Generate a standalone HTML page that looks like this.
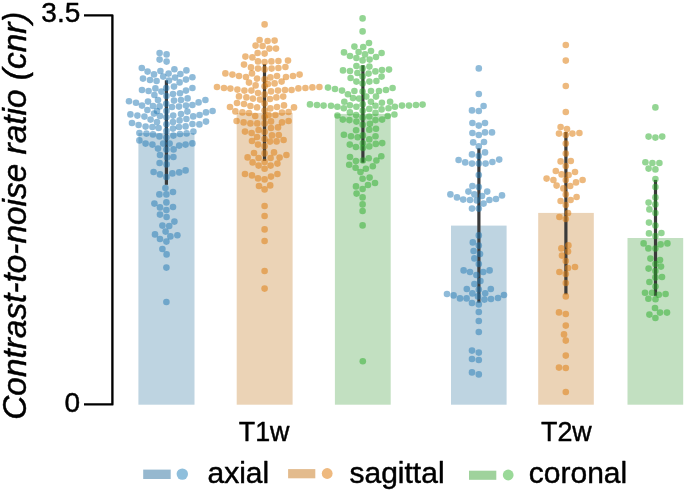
<!DOCTYPE html>
<html><head><meta charset="utf-8"><style>
html,body{margin:0;padding:0;background:#fff;}
svg{display:block;will-change:transform;}
text{font-family:"Liberation Sans",sans-serif;fill:#000;stroke:#000;stroke-width:0.45px;stroke-linejoin:round;}
</style></head><body>
<svg width="685" height="491" viewBox="0 0 685 491">
<rect width="685" height="491" fill="#fff"/>
<rect x="138.4" y="133.1" width="56.1" height="271.6" fill="#bed4e1"/>
<rect x="236.7" y="112.9" width="55.9" height="291.8" fill="#ebd3b6"/>
<rect x="334.9" y="113.9" width="55.8" height="290.8" fill="#c2e0c1"/>
<rect x="451.0" y="225.6" width="55.6" height="179.1" fill="#bed4e1"/>
<rect x="538.2" y="212.9" width="55.6" height="191.8" fill="#ebd3b6"/>
<rect x="627.5" y="238.0" width="55.7" height="166.7" fill="#c2e0c1"/>
<line x1="166.4" y1="80.3" x2="166.4" y2="184.8" stroke="#3a3a3a" stroke-width="3.2"/>
<line x1="264.5" y1="64.2" x2="264.5" y2="160.8" stroke="#3a3a3a" stroke-width="3.2"/>
<line x1="362.9" y1="65.2" x2="362.9" y2="162.7" stroke="#3a3a3a" stroke-width="3.2"/>
<line x1="478.9" y1="148.3" x2="478.9" y2="302.6" stroke="#3a3a3a" stroke-width="3.2"/>
<line x1="565.9" y1="132.0" x2="565.9" y2="294.3" stroke="#3a3a3a" stroke-width="3.2"/>
<line x1="655.5" y1="179.9" x2="655.5" y2="295.8" stroke="#3a3a3a" stroke-width="3.2"/>
<g fill="rgba(31,119,180,0.5)"><circle cx="159.6" cy="53.0" r="3.3"/><circle cx="166.6" cy="54.4" r="3.3"/><circle cx="159.6" cy="59.6" r="3.3"/><circle cx="166.6" cy="61.6" r="3.3"/><circle cx="141.8" cy="68.0" r="3.3"/><circle cx="147.6" cy="71.6" r="3.3"/><circle cx="154.0" cy="74.4" r="3.3"/><circle cx="160.4" cy="71.0" r="3.3"/><circle cx="168.6" cy="73.6" r="3.3"/><circle cx="174.4" cy="69.2" r="3.3"/><circle cx="180.4" cy="74.0" r="3.3"/><circle cx="186.4" cy="70.4" r="3.3"/><circle cx="143.0" cy="78.6" r="3.3"/><circle cx="150.0" cy="80.0" r="3.3"/><circle cx="156.6" cy="81.0" r="3.3"/><circle cx="163.2" cy="76.6" r="3.3"/><circle cx="169.0" cy="80.6" r="3.3"/><circle cx="175.0" cy="77.6" r="3.3"/><circle cx="179.6" cy="82.4" r="3.3"/><circle cx="186.0" cy="79.6" r="3.3"/><circle cx="192.4" cy="77.2" r="3.3"/><circle cx="142.0" cy="90.0" r="3.3"/><circle cx="148.6" cy="91.0" r="3.3"/><circle cx="155.4" cy="88.4" r="3.3"/><circle cx="161.4" cy="91.6" r="3.3"/><circle cx="174.0" cy="86.6" r="3.3"/><circle cx="173.0" cy="94.0" r="3.3"/><circle cx="180.0" cy="93.2" r="3.3"/><circle cx="186.0" cy="90.6" r="3.3"/><circle cx="192.4" cy="88.0" r="3.3"/><circle cx="154.4" cy="95.0" r="3.3"/><circle cx="158.0" cy="100.0" r="3.3"/><circle cx="174.0" cy="100.6" r="3.3"/><circle cx="181.0" cy="100.0" r="3.3"/><circle cx="187.6" cy="98.4" r="3.3"/><circle cx="129.0" cy="101.2" r="3.3"/><circle cx="136.0" cy="102.8" r="3.3"/><circle cx="142.0" cy="105.6" r="3.3"/><circle cx="148.0" cy="101.6" r="3.3"/><circle cx="153.0" cy="106.0" r="3.3"/><circle cx="159.6" cy="106.4" r="3.3"/><circle cx="172.0" cy="107.0" r="3.3"/><circle cx="179.0" cy="106.6" r="3.3"/><circle cx="186.0" cy="105.6" r="3.3"/><circle cx="192.4" cy="105.0" r="3.3"/><circle cx="198.6" cy="102.4" r="3.3"/><circle cx="205.4" cy="100.0" r="3.3"/><circle cx="147.4" cy="110.0" r="3.3"/><circle cx="157.0" cy="111.0" r="3.3"/><circle cx="154.0" cy="113.6" r="3.3"/><circle cx="160.0" cy="116.0" r="3.3"/><circle cx="173.2" cy="115.6" r="3.3"/><circle cx="181.0" cy="114.0" r="3.3"/><circle cx="187.4" cy="111.6" r="3.3"/><circle cx="193.2" cy="116.4" r="3.3"/><circle cx="199.6" cy="115.0" r="3.3"/><circle cx="206.0" cy="112.4" r="3.3"/><circle cx="212.6" cy="111.0" r="3.3"/><circle cx="130.4" cy="114.4" r="3.3"/><circle cx="137.4" cy="115.6" r="3.3"/><circle cx="144.4" cy="116.6" r="3.3"/><circle cx="150.6" cy="119.6" r="3.3"/><circle cx="157.0" cy="122.0" r="3.3"/><circle cx="173.0" cy="122.0" r="3.3"/><circle cx="179.6" cy="120.4" r="3.3"/><circle cx="186.4" cy="119.0" r="3.3"/><circle cx="192.4" cy="124.0" r="3.3"/><circle cx="199.4" cy="124.4" r="3.3"/><circle cx="206.0" cy="121.6" r="3.3"/><circle cx="132.0" cy="123.0" r="3.3"/><circle cx="138.6" cy="125.0" r="3.3"/><circle cx="145.6" cy="126.6" r="3.3"/><circle cx="152.4" cy="127.0" r="3.3"/><circle cx="158.6" cy="128.0" r="3.3"/><circle cx="173.0" cy="128.6" r="3.3"/><circle cx="179.0" cy="127.0" r="3.3"/><circle cx="185.6" cy="126.4" r="3.3"/><circle cx="139.4" cy="133.0" r="3.3"/><circle cx="146.4" cy="133.6" r="3.3"/><circle cx="153.0" cy="134.4" r="3.3"/><circle cx="159.4" cy="136.4" r="3.3"/><circle cx="173.4" cy="135.6" r="3.3"/><circle cx="180.0" cy="134.0" r="3.3"/><circle cx="186.6" cy="133.4" r="3.3"/><circle cx="193.4" cy="131.6" r="3.3"/><circle cx="139.4" cy="140.4" r="3.3"/><circle cx="145.6" cy="143.6" r="3.3"/><circle cx="152.4" cy="144.6" r="3.3"/><circle cx="158.0" cy="148.6" r="3.3"/><circle cx="163.2" cy="143.6" r="3.3"/><circle cx="169.6" cy="143.6" r="3.3"/><circle cx="173.6" cy="149.4" r="3.3"/><circle cx="179.2" cy="145.6" r="3.3"/><circle cx="185.6" cy="144.6" r="3.3"/><circle cx="192.4" cy="143.4" r="3.3"/><circle cx="160.0" cy="155.0" r="3.3"/><circle cx="166.4" cy="149.6" r="3.3"/><circle cx="167.0" cy="157.6" r="3.3"/><circle cx="173.4" cy="157.0" r="3.3"/><circle cx="159.6" cy="163.0" r="3.3"/><circle cx="166.6" cy="164.4" r="3.3"/><circle cx="153.6" cy="172.0" r="3.3"/><circle cx="160.0" cy="174.4" r="3.3"/><circle cx="166.4" cy="177.0" r="3.3"/><circle cx="172.4" cy="173.4" r="3.3"/><circle cx="179.2" cy="172.4" r="3.3"/><circle cx="185.6" cy="170.4" r="3.3"/><circle cx="165.4" cy="188.0" r="3.3"/><circle cx="159.4" cy="194.4" r="3.3"/><circle cx="166.4" cy="194.4" r="3.3"/><circle cx="173.0" cy="192.0" r="3.3"/><circle cx="154.4" cy="203.6" r="3.3"/><circle cx="160.0" cy="207.4" r="3.3"/><circle cx="166.4" cy="202.4" r="3.3"/><circle cx="166.4" cy="210.0" r="3.3"/><circle cx="173.0" cy="207.0" r="3.3"/><circle cx="160.0" cy="214.6" r="3.3"/><circle cx="166.6" cy="217.0" r="3.3"/><circle cx="174.4" cy="221.6" r="3.3"/><circle cx="162.4" cy="225.6" r="3.3"/><circle cx="169.2" cy="226.0" r="3.3"/><circle cx="165.6" cy="231.6" r="3.3"/><circle cx="155.0" cy="234.4" r="3.3"/><circle cx="160.0" cy="239.0" r="3.3"/><circle cx="166.4" cy="241.6" r="3.3"/><circle cx="170.4" cy="236.4" r="3.3"/><circle cx="177.4" cy="235.2" r="3.3"/><circle cx="162.4" cy="249.0" r="3.3"/><circle cx="166.6" cy="254.4" r="3.3"/><circle cx="166.4" cy="267.6" r="3.3"/><circle cx="166.4" cy="302.0" r="3.3"/><circle cx="166.2" cy="88.0" r="3.3"/><circle cx="166.4" cy="96.0" r="3.3"/><circle cx="166.2" cy="103.7" r="3.3"/><circle cx="166.4" cy="111.0" r="3.3"/><circle cx="166.4" cy="117.3" r="3.3"/><circle cx="166.4" cy="124.3" r="3.3"/><circle cx="166.4" cy="131.0" r="3.3"/><circle cx="166.4" cy="137.5" r="3.3"/></g>
<g fill="rgba(222,128,20,0.55)"><circle cx="264.6" cy="24.4" r="3.3"/><circle cx="259.6" cy="40.0" r="3.3"/><circle cx="267.6" cy="41.0" r="3.3"/><circle cx="274.6" cy="40.6" r="3.3"/><circle cx="255.6" cy="45.6" r="3.3"/><circle cx="262.6" cy="46.0" r="3.3"/><circle cx="269.4" cy="48.6" r="3.3"/><circle cx="276.0" cy="48.6" r="3.3"/><circle cx="257.6" cy="53.0" r="3.3"/><circle cx="264.6" cy="53.6" r="3.3"/><circle cx="245.4" cy="56.6" r="3.3"/><circle cx="252.4" cy="57.4" r="3.3"/><circle cx="258.0" cy="61.4" r="3.3"/><circle cx="271.4" cy="61.4" r="3.3"/><circle cx="278.4" cy="61.0" r="3.3"/><circle cx="288.0" cy="60.6" r="3.3"/><circle cx="244.0" cy="64.6" r="3.3"/><circle cx="251.0" cy="67.4" r="3.3"/><circle cx="258.0" cy="68.6" r="3.3"/><circle cx="271.6" cy="68.6" r="3.3"/><circle cx="278.4" cy="68.0" r="3.3"/><circle cx="285.4" cy="67.0" r="3.3"/><circle cx="225.4" cy="73.4" r="3.3"/><circle cx="232.4" cy="74.6" r="3.3"/><circle cx="239.0" cy="76.0" r="3.3"/><circle cx="246.0" cy="77.0" r="3.3"/><circle cx="252.0" cy="73.4" r="3.3"/><circle cx="257.0" cy="78.6" r="3.3"/><circle cx="270.4" cy="77.4" r="3.3"/><circle cx="277.0" cy="76.0" r="3.3"/><circle cx="286.0" cy="77.0" r="3.3"/><circle cx="293.0" cy="76.0" r="3.3"/><circle cx="299.6" cy="74.6" r="3.3"/><circle cx="249.0" cy="82.6" r="3.3"/><circle cx="255.6" cy="85.4" r="3.3"/><circle cx="268.0" cy="84.0" r="3.3"/><circle cx="274.6" cy="83.4" r="3.3"/><circle cx="281.6" cy="81.6" r="3.3"/><circle cx="217.0" cy="87.0" r="3.3"/><circle cx="224.0" cy="88.0" r="3.3"/><circle cx="230.4" cy="88.6" r="3.3"/><circle cx="237.4" cy="89.6" r="3.3"/><circle cx="244.4" cy="90.6" r="3.3"/><circle cx="251.4" cy="90.6" r="3.3"/><circle cx="258.0" cy="93.0" r="3.3"/><circle cx="271.0" cy="91.4" r="3.3"/><circle cx="278.0" cy="90.6" r="3.3"/><circle cx="285.0" cy="90.0" r="3.3"/><circle cx="291.6" cy="90.0" r="3.3"/><circle cx="298.4" cy="88.4" r="3.3"/><circle cx="305.4" cy="88.0" r="3.3"/><circle cx="312.4" cy="87.4" r="3.3"/><circle cx="319.4" cy="87.0" r="3.3"/><circle cx="239.0" cy="96.4" r="3.3"/><circle cx="246.4" cy="97.4" r="3.3"/><circle cx="253.0" cy="98.6" r="3.3"/><circle cx="260.0" cy="99.6" r="3.3"/><circle cx="270.0" cy="99.0" r="3.3"/><circle cx="276.4" cy="97.4" r="3.3"/><circle cx="283.2" cy="96.6" r="3.3"/><circle cx="237.0" cy="103.0" r="3.3"/><circle cx="244.0" cy="104.0" r="3.3"/><circle cx="250.4" cy="106.0" r="3.3"/><circle cx="257.0" cy="107.4" r="3.3"/><circle cx="270.4" cy="108.4" r="3.3"/><circle cx="277.0" cy="107.0" r="3.3"/><circle cx="284.0" cy="105.4" r="3.3"/><circle cx="294.0" cy="107.4" r="3.3"/><circle cx="230.0" cy="107.0" r="3.3"/><circle cx="264.6" cy="62.0" r="3.3"/><circle cx="264.6" cy="69.4" r="3.3"/><circle cx="264.6" cy="79.4" r="3.3"/><circle cx="264.6" cy="86.2" r="3.3"/><circle cx="264.6" cy="94.4" r="3.3"/><circle cx="264.6" cy="103.6" r="3.3"/><circle cx="235.4" cy="111.4" r="3.3"/><circle cx="242.4" cy="112.4" r="3.3"/><circle cx="249.0" cy="113.0" r="3.3"/><circle cx="255.2" cy="116.0" r="3.3"/><circle cx="268.6" cy="115.0" r="3.3"/><circle cx="275.4" cy="115.0" r="3.3"/><circle cx="282.0" cy="112.6" r="3.3"/><circle cx="288.6" cy="112.0" r="3.3"/><circle cx="236.6" cy="121.0" r="3.3"/><circle cx="243.6" cy="122.4" r="3.3"/><circle cx="250.4" cy="123.4" r="3.3"/><circle cx="257.2" cy="123.4" r="3.3"/><circle cx="271.0" cy="121.4" r="3.3"/><circle cx="282.0" cy="122.4" r="3.3"/><circle cx="288.6" cy="121.0" r="3.3"/><circle cx="245.0" cy="131.6" r="3.3"/><circle cx="251.6" cy="133.0" r="3.3"/><circle cx="258.6" cy="130.0" r="3.3"/><circle cx="271.0" cy="128.0" r="3.3"/><circle cx="278.0" cy="127.4" r="3.3"/><circle cx="257.0" cy="137.0" r="3.3"/><circle cx="272.0" cy="135.4" r="3.3"/><circle cx="278.8" cy="135.0" r="3.3"/><circle cx="252.0" cy="141.0" r="3.3"/><circle cx="258.0" cy="144.6" r="3.3"/><circle cx="270.0" cy="141.6" r="3.3"/><circle cx="276.6" cy="141.4" r="3.3"/><circle cx="283.6" cy="140.0" r="3.3"/><circle cx="254.0" cy="153.0" r="3.3"/><circle cx="274.0" cy="152.4" r="3.3"/><circle cx="247.6" cy="157.4" r="3.3"/><circle cx="258.6" cy="158.0" r="3.3"/><circle cx="270.6" cy="158.0" r="3.3"/><circle cx="279.6" cy="157.6" r="3.3"/><circle cx="286.4" cy="155.0" r="3.3"/><circle cx="252.6" cy="162.4" r="3.3"/><circle cx="258.6" cy="165.6" r="3.3"/><circle cx="270.6" cy="165.6" r="3.3"/><circle cx="277.4" cy="163.6" r="3.3"/><circle cx="245.0" cy="174.0" r="3.3"/><circle cx="252.0" cy="175.4" r="3.3"/><circle cx="258.0" cy="178.4" r="3.3"/><circle cx="264.6" cy="179.4" r="3.3"/><circle cx="271.0" cy="176.6" r="3.3"/><circle cx="277.4" cy="174.0" r="3.3"/><circle cx="259.0" cy="186.0" r="3.3"/><circle cx="264.6" cy="189.4" r="3.3"/><circle cx="270.2" cy="185.4" r="3.3"/><circle cx="264.6" cy="110.6" r="3.3"/><circle cx="264.6" cy="117.0" r="3.3"/><circle cx="264.6" cy="123.4" r="3.3"/><circle cx="264.6" cy="132.0" r="3.3"/><circle cx="264.6" cy="139.0" r="3.3"/><circle cx="264.6" cy="146.2" r="3.3"/><circle cx="264.6" cy="153.4" r="3.3"/><circle cx="264.6" cy="162.0" r="3.3"/><circle cx="264.6" cy="168.8" r="3.3"/><circle cx="264.6" cy="206.0" r="3.3"/><circle cx="264.6" cy="216.0" r="3.3"/><circle cx="264.6" cy="229.4" r="3.3"/><circle cx="264.6" cy="241.0" r="3.3"/><circle cx="264.6" cy="271.0" r="3.3"/><circle cx="264.6" cy="288.6" r="3.3"/></g>
<g fill="rgba(40,172,40,0.5)"><circle cx="362.6" cy="18.4" r="3.3"/><circle cx="362.6" cy="31.4" r="3.3"/><circle cx="369.0" cy="43.0" r="3.3"/><circle cx="354.4" cy="46.6" r="3.3"/><circle cx="363.2" cy="47.0" r="3.3"/><circle cx="371.0" cy="51.0" r="3.3"/><circle cx="358.6" cy="52.0" r="3.3"/><circle cx="344.0" cy="52.4" r="3.3"/><circle cx="350.0" cy="56.0" r="3.3"/><circle cx="356.4" cy="58.0" r="3.3"/><circle cx="365.0" cy="54.4" r="3.3"/><circle cx="369.6" cy="59.6" r="3.3"/><circle cx="376.0" cy="57.0" r="3.3"/><circle cx="381.6" cy="53.0" r="3.3"/><circle cx="356.4" cy="66.0" r="3.3"/><circle cx="369.4" cy="66.6" r="3.3"/><circle cx="343.0" cy="70.4" r="3.3"/><circle cx="350.0" cy="71.0" r="3.3"/><circle cx="357.4" cy="73.0" r="3.3"/><circle cx="368.6" cy="73.6" r="3.3"/><circle cx="375.4" cy="71.4" r="3.3"/><circle cx="382.0" cy="70.0" r="3.3"/><circle cx="389.0" cy="69.6" r="3.3"/><circle cx="350.6" cy="78.0" r="3.3"/><circle cx="356.4" cy="81.6" r="3.3"/><circle cx="369.4" cy="81.6" r="3.3"/><circle cx="376.4" cy="81.0" r="3.3"/><circle cx="381.6" cy="76.6" r="3.3"/><circle cx="328.0" cy="87.6" r="3.3"/><circle cx="335.0" cy="89.0" r="3.3"/><circle cx="342.0" cy="90.6" r="3.3"/><circle cx="354.4" cy="91.0" r="3.3"/><circle cx="371.0" cy="91.0" r="3.3"/><circle cx="379.0" cy="91.0" r="3.3"/><circle cx="386.0" cy="90.0" r="3.3"/><circle cx="392.6" cy="88.0" r="3.3"/><circle cx="362.6" cy="60.4" r="3.3"/><circle cx="362.6" cy="68.4" r="3.3"/><circle cx="362.6" cy="91.6" r="3.3"/><circle cx="347.9" cy="94.2" r="3.3"/><circle cx="353.0" cy="98.1" r="3.3"/><circle cx="359.1" cy="98.6" r="3.3"/><circle cx="366.3" cy="96.6" r="3.3"/><circle cx="376.0" cy="96.6" r="3.3"/><circle cx="344.3" cy="101.7" r="3.3"/><circle cx="349.9" cy="105.3" r="3.3"/><circle cx="356.4" cy="106.8" r="3.3"/><circle cx="362.7" cy="104.3" r="3.3"/><circle cx="370.9" cy="101.7" r="3.3"/><circle cx="375.5" cy="105.8" r="3.3"/><circle cx="381.9" cy="102.7" r="3.3"/><circle cx="390.1" cy="101.7" r="3.3"/><circle cx="331.0" cy="105.8" r="3.3"/><circle cx="337.4" cy="106.8" r="3.3"/><circle cx="343.8" cy="108.3" r="3.3"/><circle cx="369.3" cy="108.9" r="3.3"/><circle cx="381.6" cy="109.4" r="3.3"/><circle cx="388.5" cy="108.3" r="3.3"/><circle cx="394.9" cy="106.8" r="3.3"/><circle cx="349.9" cy="112.4" r="3.3"/><circle cx="356.1" cy="115.0" r="3.3"/><circle cx="375.5" cy="112.9" r="3.3"/><circle cx="394.4" cy="114.5" r="3.3"/><circle cx="337.4" cy="115.5" r="3.3"/><circle cx="342.8" cy="119.6" r="3.3"/><circle cx="349.4" cy="120.1" r="3.3"/><circle cx="356.4" cy="121.6" r="3.3"/><circle cx="362.7" cy="117.5" r="3.3"/><circle cx="369.3" cy="116.5" r="3.3"/><circle cx="375.5" cy="120.1" r="3.3"/><circle cx="382.1" cy="119.6" r="3.3"/><circle cx="387.7" cy="116.0" r="3.3"/><circle cx="362.7" cy="124.7" r="3.3"/><circle cx="369.9" cy="123.7" r="3.3"/><circle cx="356.1" cy="130.3" r="3.3"/><circle cx="369.3" cy="129.8" r="3.3"/><circle cx="376.0" cy="128.8" r="3.3"/><circle cx="310.0" cy="104.4" r="3.3"/><circle cx="317.0" cy="105.0" r="3.3"/><circle cx="323.6" cy="105.6" r="3.3"/><circle cx="402.0" cy="105.6" r="3.3"/><circle cx="409.0" cy="105.6" r="3.3"/><circle cx="416.0" cy="105.0" r="3.3"/><circle cx="422.6" cy="104.6" r="3.3"/><circle cx="343.9" cy="134.8" r="3.3"/><circle cx="351.0" cy="136.2" r="3.3"/><circle cx="357.7" cy="137.2" r="3.3"/><circle cx="369.3" cy="139.4" r="3.3"/><circle cx="375.5" cy="136.2" r="3.3"/><circle cx="362.9" cy="135.4" r="3.3"/><circle cx="349.8" cy="144.6" r="3.3"/><circle cx="355.9" cy="147.0" r="3.3"/><circle cx="369.3" cy="146.4" r="3.3"/><circle cx="375.8" cy="143.9" r="3.3"/><circle cx="382.2" cy="143.1" r="3.3"/><circle cx="362.9" cy="143.3" r="3.3"/><circle cx="350.0" cy="157.0" r="3.3"/><circle cx="355.9" cy="161.1" r="3.3"/><circle cx="368.7" cy="158.3" r="3.3"/><circle cx="376.4" cy="160.5" r="3.3"/><circle cx="381.3" cy="156.2" r="3.3"/><circle cx="362.9" cy="160.5" r="3.3"/><circle cx="349.2" cy="164.7" r="3.3"/><circle cx="355.6" cy="167.8" r="3.3"/><circle cx="365.9" cy="168.8" r="3.3"/><circle cx="372.8" cy="166.3" r="3.3"/><circle cx="360.5" cy="172.1" r="3.3"/><circle cx="362.6" cy="178.8" r="3.3"/><circle cx="369.6" cy="177.6" r="3.3"/><circle cx="356.0" cy="186.4" r="3.3"/><circle cx="368.0" cy="185.0" r="3.3"/><circle cx="375.0" cy="183.0" r="3.3"/><circle cx="362.6" cy="189.0" r="3.3"/><circle cx="356.6" cy="193.6" r="3.3"/><circle cx="362.6" cy="197.4" r="3.3"/><circle cx="362.6" cy="204.4" r="3.3"/><circle cx="362.6" cy="211.0" r="3.3"/><circle cx="362.6" cy="225.4" r="3.3"/><circle cx="362.8" cy="361.3" r="3.3"/><circle cx="362.6" cy="76.5" r="3.3"/><circle cx="362.6" cy="83.5" r="3.3"/><circle cx="362.7" cy="110.7" r="3.3"/><circle cx="362.9" cy="148.0" r="3.3"/></g>
<g fill="rgba(31,119,180,0.5)"><circle cx="478.8" cy="68.4" r="3.3"/><circle cx="478.8" cy="94.0" r="3.3"/><circle cx="483.6" cy="106.0" r="3.3"/><circle cx="472.0" cy="110.4" r="3.3"/><circle cx="478.8" cy="111.0" r="3.3"/><circle cx="472.4" cy="123.0" r="3.3"/><circle cx="478.8" cy="125.6" r="3.3"/><circle cx="485.0" cy="123.0" r="3.3"/><circle cx="472.4" cy="133.0" r="3.3"/><circle cx="478.8" cy="135.0" r="3.3"/><circle cx="485.0" cy="132.4" r="3.3"/><circle cx="492.0" cy="132.4" r="3.3"/><circle cx="473.2" cy="142.4" r="3.3"/><circle cx="484.0" cy="142.0" r="3.3"/><circle cx="478.8" cy="146.4" r="3.3"/><circle cx="472.0" cy="154.4" r="3.3"/><circle cx="485.0" cy="152.4" r="3.3"/><circle cx="478.8" cy="156.0" r="3.3"/><circle cx="458.6" cy="160.0" r="3.3"/><circle cx="465.2" cy="162.4" r="3.3"/><circle cx="472.0" cy="163.6" r="3.3"/><circle cx="478.8" cy="163.6" r="3.3"/><circle cx="485.6" cy="163.6" r="3.3"/><circle cx="492.4" cy="162.0" r="3.3"/><circle cx="499.2" cy="159.6" r="3.3"/><circle cx="478.8" cy="175.0" r="3.3"/><circle cx="472.4" cy="186.0" r="3.3"/><circle cx="478.8" cy="187.0" r="3.3"/><circle cx="468.4" cy="191.6" r="3.3"/><circle cx="474.4" cy="194.4" r="3.3"/><circle cx="482.0" cy="196.0" r="3.3"/><circle cx="487.2" cy="191.6" r="3.3"/><circle cx="450.4" cy="194.4" r="3.3"/><circle cx="457.0" cy="197.4" r="3.3"/><circle cx="463.2" cy="199.6" r="3.3"/><circle cx="470.0" cy="200.0" r="3.3"/><circle cx="476.8" cy="200.4" r="3.3"/><circle cx="483.6" cy="203.6" r="3.3"/><circle cx="489.4" cy="200.0" r="3.3"/><circle cx="496.0" cy="199.0" r="3.3"/><circle cx="502.0" cy="195.4" r="3.3"/><circle cx="472.0" cy="208.6" r="3.3"/><circle cx="478.8" cy="208.6" r="3.3"/><circle cx="478.8" cy="235.4" r="3.3"/><circle cx="472.8" cy="242.4" r="3.3"/><circle cx="478.8" cy="245.6" r="3.3"/><circle cx="473.6" cy="251.0" r="3.3"/><circle cx="480.0" cy="254.0" r="3.3"/><circle cx="474.4" cy="258.4" r="3.3"/><circle cx="478.8" cy="264.0" r="3.3"/><circle cx="463.6" cy="270.4" r="3.3"/><circle cx="470.0" cy="272.0" r="3.3"/><circle cx="476.4" cy="275.0" r="3.3"/><circle cx="483.2" cy="272.0" r="3.3"/><circle cx="489.6" cy="270.4" r="3.3"/><circle cx="474.4" cy="284.0" r="3.3"/><circle cx="480.4" cy="281.0" r="3.3"/><circle cx="466.8" cy="289.0" r="3.3"/><circle cx="478.8" cy="289.6" r="3.3"/><circle cx="490.8" cy="289.0" r="3.3"/><circle cx="447.0" cy="294.0" r="3.3"/><circle cx="453.6" cy="295.4" r="3.3"/><circle cx="460.0" cy="298.4" r="3.3"/><circle cx="466.6" cy="298.4" r="3.3"/><circle cx="472.4" cy="293.4" r="3.3"/><circle cx="478.0" cy="296.4" r="3.3"/><circle cx="485.2" cy="293.2" r="3.3"/><circle cx="484.4" cy="299.6" r="3.3"/><circle cx="491.0" cy="299.0" r="3.3"/><circle cx="498.0" cy="298.0" r="3.3"/><circle cx="504.0" cy="295.0" r="3.3"/><circle cx="472.0" cy="303.0" r="3.3"/><circle cx="478.8" cy="304.4" r="3.3"/><circle cx="478.8" cy="312.0" r="3.3"/><circle cx="478.8" cy="321.0" r="3.3"/><circle cx="478.8" cy="332.0" r="3.3"/><circle cx="472.0" cy="350.6" r="3.3"/><circle cx="478.8" cy="352.6" r="3.3"/><circle cx="472.0" cy="359.0" r="3.3"/><circle cx="478.8" cy="360.0" r="3.3"/><circle cx="472.0" cy="372.4" r="3.3"/><circle cx="478.8" cy="374.4" r="3.3"/></g>
<g fill="rgba(222,128,20,0.55)"><circle cx="565.8" cy="45.0" r="3.3"/><circle cx="565.8" cy="60.6" r="3.3"/><circle cx="565.8" cy="86.0" r="3.3"/><circle cx="565.8" cy="112.0" r="3.3"/><circle cx="560.6" cy="127.0" r="3.3"/><circle cx="567.0" cy="129.0" r="3.3"/><circle cx="559.0" cy="133.6" r="3.3"/><circle cx="565.8" cy="135.0" r="3.3"/><circle cx="572.4" cy="133.6" r="3.3"/><circle cx="579.4" cy="133.0" r="3.3"/><circle cx="565.8" cy="143.6" r="3.3"/><circle cx="565.8" cy="153.6" r="3.3"/><circle cx="560.6" cy="161.4" r="3.3"/><circle cx="570.8" cy="161.0" r="3.3"/><circle cx="565.8" cy="166.0" r="3.3"/><circle cx="555.8" cy="171.0" r="3.3"/><circle cx="561.6" cy="174.4" r="3.3"/><circle cx="568.6" cy="175.0" r="3.3"/><circle cx="575.0" cy="172.0" r="3.3"/><circle cx="546.6" cy="178.6" r="3.3"/><circle cx="553.4" cy="180.0" r="3.3"/><circle cx="565.8" cy="180.0" r="3.3"/><circle cx="576.0" cy="182.4" r="3.3"/><circle cx="582.6" cy="180.0" r="3.3"/><circle cx="556.6" cy="185.6" r="3.3"/><circle cx="563.4" cy="188.4" r="3.3"/><circle cx="570.2" cy="186.0" r="3.3"/><circle cx="565.8" cy="194.4" r="3.3"/><circle cx="560.6" cy="201.0" r="3.3"/><circle cx="570.6" cy="200.0" r="3.3"/><circle cx="576.6" cy="197.0" r="3.3"/><circle cx="565.8" cy="205.0" r="3.3"/><circle cx="568.0" cy="213.0" r="3.3"/><circle cx="559.4" cy="217.0" r="3.3"/><circle cx="565.8" cy="219.0" r="3.3"/><circle cx="561.4" cy="248.4" r="3.3"/><circle cx="568.4" cy="245.4" r="3.3"/><circle cx="562.0" cy="255.6" r="3.3"/><circle cx="568.0" cy="251.6" r="3.3"/><circle cx="565.8" cy="261.0" r="3.3"/><circle cx="568.0" cy="268.0" r="3.3"/><circle cx="575.0" cy="267.0" r="3.3"/><circle cx="559.4" cy="272.0" r="3.3"/><circle cx="565.8" cy="274.0" r="3.3"/><circle cx="565.8" cy="283.0" r="3.3"/><circle cx="565.8" cy="296.4" r="3.3"/><circle cx="559.0" cy="312.4" r="3.3"/><circle cx="565.8" cy="314.0" r="3.3"/><circle cx="565.8" cy="325.6" r="3.3"/><circle cx="564.0" cy="334.4" r="3.3"/><circle cx="565.8" cy="340.6" r="3.3"/><circle cx="565.8" cy="355.6" r="3.3"/><circle cx="559.0" cy="367.6" r="3.3"/><circle cx="565.8" cy="368.0" r="3.3"/><circle cx="565.8" cy="392.0" r="3.3"/></g>
<g fill="rgba(40,172,40,0.5)"><circle cx="655.4" cy="107.4" r="3.3"/><circle cx="648.6" cy="136.6" r="3.3"/><circle cx="655.4" cy="137.6" r="3.3"/><circle cx="662.2" cy="136.6" r="3.3"/><circle cx="645.4" cy="162.2" r="3.3"/><circle cx="652.4" cy="163.0" r="3.3"/><circle cx="659.4" cy="163.0" r="3.3"/><circle cx="648.6" cy="168.6" r="3.3"/><circle cx="655.4" cy="169.4" r="3.3"/><circle cx="655.4" cy="179.0" r="3.3"/><circle cx="655.4" cy="187.0" r="3.3"/><circle cx="655.4" cy="197.4" r="3.3"/><circle cx="648.6" cy="202.6" r="3.3"/><circle cx="655.4" cy="204.4" r="3.3"/><circle cx="649.4" cy="209.4" r="3.3"/><circle cx="655.4" cy="213.0" r="3.3"/><circle cx="649.0" cy="222.6" r="3.3"/><circle cx="655.4" cy="225.6" r="3.3"/><circle cx="649.0" cy="233.4" r="3.3"/><circle cx="661.4" cy="233.0" r="3.3"/><circle cx="655.4" cy="236.0" r="3.3"/><circle cx="643.6" cy="243.4" r="3.3"/><circle cx="648.4" cy="248.4" r="3.3"/><circle cx="655.4" cy="248.6" r="3.3"/><circle cx="660.6" cy="244.4" r="3.3"/><circle cx="667.4" cy="243.4" r="3.3"/><circle cx="650.4" cy="258.6" r="3.3"/><circle cx="660.0" cy="260.0" r="3.3"/><circle cx="655.4" cy="264.0" r="3.3"/><circle cx="648.6" cy="268.6" r="3.3"/><circle cx="661.0" cy="266.6" r="3.3"/><circle cx="655.4" cy="271.0" r="3.3"/><circle cx="655.4" cy="277.4" r="3.3"/><circle cx="662.0" cy="277.0" r="3.3"/><circle cx="649.4" cy="282.0" r="3.3"/><circle cx="655.5" cy="286.5" r="3.3"/><circle cx="645.0" cy="292.8" r="3.3"/><circle cx="652.1" cy="292.8" r="3.3"/><circle cx="658.8" cy="294.8" r="3.3"/><circle cx="665.6" cy="294.0" r="3.3"/><circle cx="648.4" cy="298.7" r="3.3"/><circle cx="655.5" cy="299.3" r="3.3"/><circle cx="655.0" cy="308.0" r="3.3"/><circle cx="649.4" cy="314.6" r="3.3"/><circle cx="660.0" cy="312.6" r="3.3"/><circle cx="667.0" cy="312.6" r="3.3"/><circle cx="655.4" cy="318.0" r="3.3"/></g>
<path d="M84 15.3 H112.4 V404.4 H84" fill="none" stroke="#000" stroke-width="2.35" stroke-linejoin="round"/>
<text x="80.3" y="21.8" font-size="28" text-anchor="end">3.5</text>
<text x="80.0" y="411.6" font-size="28" text-anchor="end">0</text>
<text transform="translate(264.1 440.7) scale(0.96 1)" font-size="28" text-anchor="middle">T1w</text>
<text transform="translate(566.4 440.7) scale(0.96 1)" font-size="28" text-anchor="middle">T2w</text>
<text transform="translate(26.1 419.8) rotate(-90)" font-size="33.4" font-style="italic">Contrast-to-noise ratio (cnr)</text>
<rect x="143.2" y="469.6" width="27.5" height="9.4" fill="#96b8cf"/>
<circle cx="182.3" cy="474.1" r="5.7" fill="#8fbfdc"/>
<text x="207.5" y="482.8" font-size="30">axial</text>
<rect x="288.1" y="469.1" width="27.2" height="9.2" fill="#e3bb8d"/>
<circle cx="327.2" cy="473.5" r="5.4" fill="#eeb97f"/>
<text x="349.5" y="482.8" font-size="30">sagittal</text>
<rect x="469" y="470.7" width="27.3" height="9.1" fill="#9fd29c"/>
<circle cx="508.2" cy="475" r="5.4" fill="#9ad998"/>
<text x="528.8" y="482.8" font-size="30">coronal</text>
</svg>
</body></html>
